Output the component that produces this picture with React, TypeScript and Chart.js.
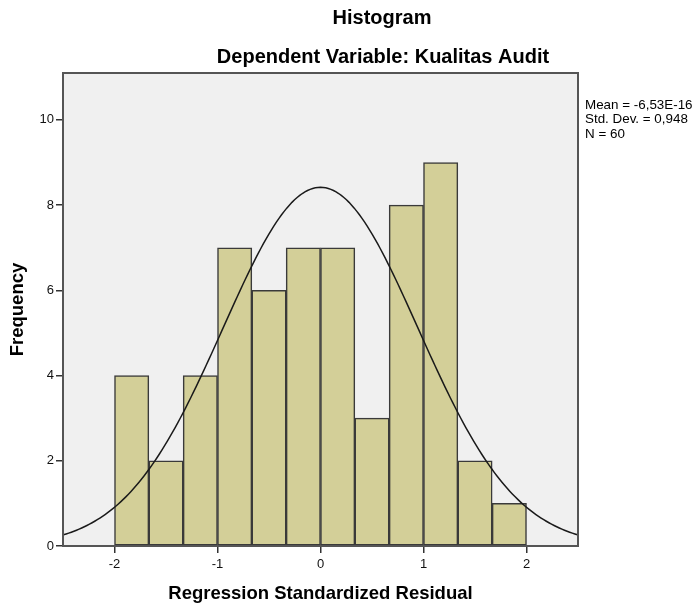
import React, { useEffect, useRef } from "react";
import { Chart, registerables } from "chart.js";

Chart.register(...registerables);

// Histogram bins (centres of bins of width 1/3 from -2 to 2)
const BIN_CENTERS = [-11 / 6, -9 / 6, -7 / 6, -5 / 6, -3 / 6, -1 / 6, 1 / 6, 3 / 6, 5 / 6, 7 / 6, 9 / 6, 11 / 6];
const FREQUENCIES = [4, 2, 4, 7, 6, 7, 7, 3, 8, 9, 2, 1];
const BIN_WIDTH = 1 / 3;

// Normal curve parameters (as shown in the chart legend)
const MEAN = -6.53e-16;
const STD_DEV = 0.948;
const N = 60;

const X_TICKS = [-2, -1, 0, 1, 2];
const Y_TICKS = [0, 2, 4, 6, 8, 10];
const STATS_LINES = ["Mean = -6,53E-16", "Std. Dev. = 0,948", "N = 60"];

const TITLE = "Histogram";
const SUBTITLE = "Dependent Variable: Kualitas Audit";
const X_TITLE = "Regression Standardized Residual";
const Y_TITLE = "Frequency";

const FONT = "'Liberation Sans', Arial, sans-serif";

function normalCurve() {
  const pts: { x: number; y: number }[] = [];
  for (let i = 0; i <= 200; i++) {
    const x = -2.52 + (5.04 * i) / 200;
    const z = (x - MEAN) / STD_DEV;
    const pdf = Math.exp(-0.5 * z * z) / (STD_DEV * Math.sqrt(2 * Math.PI));
    pts.push({ x, y: N * BIN_WIDTH * pdf });
  }
  return pts;
}

const decorPlugin = {
  id: "decor",
  beforeDatasetsDraw(chart: any) {
    const { ctx, chartArea: a } = chart;
    ctx.save();
    ctx.fillStyle = "#f0f0f0";
    ctx.fillRect(a.left, a.top, a.right - a.left, a.bottom - a.top);
    ctx.restore();
  },
  afterDatasetsDraw(chart: any) {
    const { ctx, chartArea: a } = chart;
    ctx.save();
    ctx.strokeStyle = "#555555";
    ctx.lineWidth = 2;
    ctx.strokeRect(a.left, a.top, a.right - a.left, a.bottom - a.top);
    ctx.restore();
  },
  afterDraw(chart: any) {
    const { ctx } = chart;
    ctx.save();
    ctx.fillStyle = "#000";
    ctx.textAlign = "center";
    ctx.textBaseline = "middle";
    ctx.font = `bold 20px ${FONT}`;
    ctx.fillText(TITLE, 382, 18);
    ctx.fillText(SUBTITLE, 383, 57);
    ctx.textAlign = "left";
    ctx.font = `13.4px ${FONT}`;
    STATS_LINES.forEach((s, i) => ctx.fillText(s, 585, 105 + i * 14.5));
    ctx.restore();
  },
};

export default function App() {
  const ref = useRef<HTMLCanvasElement>(null);
  useEffect(() => {
    if (!ref.current) return;
    const chart = new Chart(ref.current, {
      type: "bar",
      data: {
        datasets: [
          {
            type: "line",
            data: normalCurve(),
            borderColor: "#1a1a1a",
            borderWidth: 1.5,
            pointRadius: 0,
            tension: 0,
            order: 0,
          } as any,
          {
            type: "bar",
            data: BIN_CENTERS.map((x, i) => ({ x, y: FREQUENCIES[i] })),
            backgroundColor: "#d3cf98",
            borderColor: "#3a3a3a",
            borderWidth: 1.5,
            borderSkipped: false,
            barPercentage: 1,
            categoryPercentage: 1,
            order: 1,
          } as any,
        ],
      },
      options: {
        responsive: false,
        animation: false,
        layout: { padding: { left: 0, top: 73, right: 119, bottom: 0 } },
        plugins: { legend: { display: false }, tooltip: { enabled: false }, title: { display: false } },
        scales: {
          x: {
            type: "linear",
            min: -2.5,
            max: 2.5,
            offset: false,
            afterFit: (s: any) => {
              s.height = 64;
            },
            afterBuildTicks: (s: any) => {
              s.ticks = X_TICKS.map((v) => ({ value: v }));
            },
            ticks: { color: "#111", font: { family: FONT, size: 13 }, padding: 4, maxRotation: 0 },
            grid: { offset: false, drawOnChartArea: false, drawTicks: true, tickLength: 7, color: "#333", lineWidth: 1.5 },
            border: { display: false },
            title: { display: true, text: X_TITLE, color: "#000", font: { family: FONT, size: 18.5, weight: "bold" }, padding: { top: 4, bottom: 5 } },
          },
          y: {
            type: "linear",
            min: 0,
            max: 11.1,
            afterFit: (s: any) => {
              s.width = 63;
            },
            afterBuildTicks: (s: any) => {
              s.ticks = Y_TICKS.map((v) => ({ value: v }));
            },
            ticks: { color: "#111", font: { family: FONT, size: 13 }, padding: 2 },
            grid: { drawOnChartArea: false, drawTicks: true, tickLength: 7, color: "#333", lineWidth: 1.5 },
            border: { display: false },
            title: { display: true, text: Y_TITLE, color: "#000", font: { family: FONT, size: 18.5, weight: "bold" }, padding: { top: 7, bottom: 4 } },
          },
        },
      },
      plugins: [decorPlugin],
    } as any);
    return () => chart.destroy();
  }, []);
  return (
    <canvas
      ref={ref}
      width={697}
      height={610}
      style={{ position: "absolute", left: 0, top: 0, display: "block" }}
    />
  );
}
